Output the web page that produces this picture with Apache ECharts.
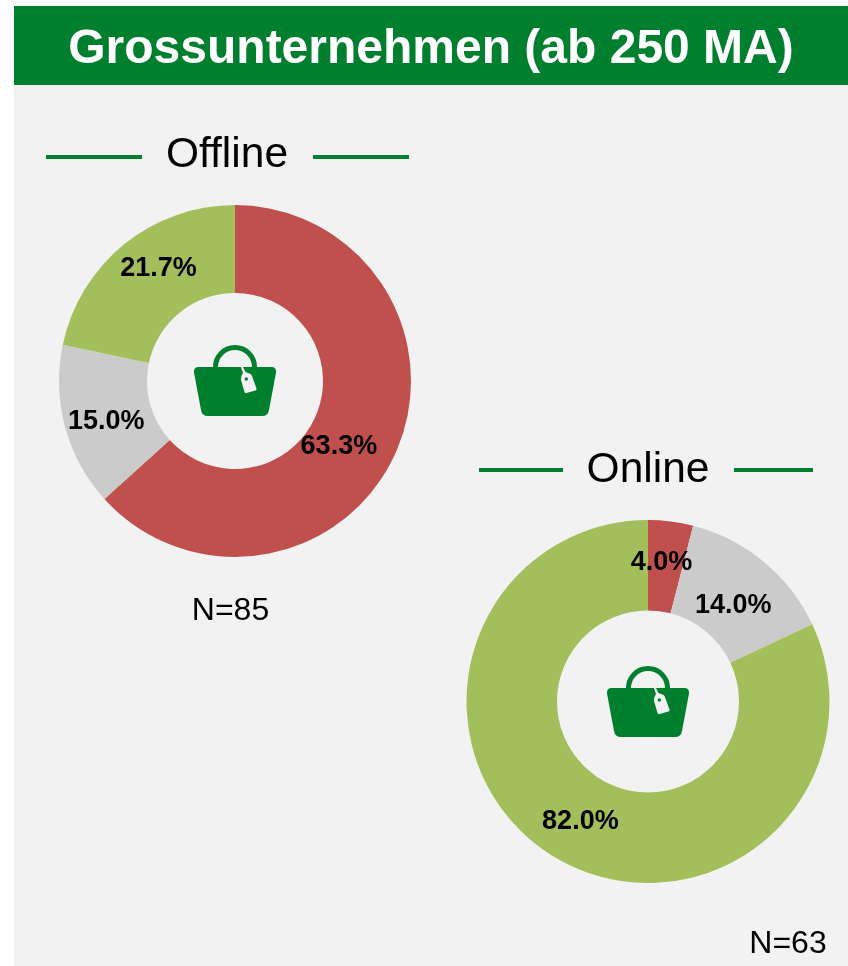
<!DOCTYPE html>
<html><head><meta charset="utf-8">
<style>html,body{margin:0;padding:0;background:#fff}#c{width:848px;height:966px}</style>
<script src="https://cdn.jsdelivr.net/npm/echarts@6/dist/echarts.min.js"></script>
</head><body><div id="c"></div>
<script>
const categories = ['Ja', 'Teilweise', 'Nein'];
const offlineValues = [63.3, 15.0, 21.7];
const onlineValues = [4.0, 14.0, 82.0];
const chartTitle = 'Grossunternehmen (ab 250 MA)';
const offlineTitle = 'Offline';
const onlineTitle = 'Online';
const offlineN = 'N=85';
const onlineN = 'N=63';

const colors = ['#C0504D', '#CBCBCB', '#A2BF5C'];
const green = '#007F2F';
const font = '"Liberation Sans", Arial, sans-serif';
const offlineOffsets = [[-19.5, 11], [1.5, 5], [8.5, -8]];
const onlineOffsets = [[-4, -1], [-3.5, 11], [7, 2]];

echarts.graphic.registerShape('bagBody', echarts.graphic.extendPath(
  'M-36.5,-14 L36.5,-14 Q41.5,-14 41,-8.5 L34,29 Q33,35 27,35 L-27,35 Q-33,35 -34,29 L-41,-8.5 Q-41.5,-14 -36.5,-14 Z'));
echarts.graphic.registerShape('bagTag', echarts.graphic.extendPath(
  'M5.5,-15 L7.5,-15 L10.5,-9 L15.5,-7 Q16.5,-6.5 17,-5 L21.5,7.5 Q22,9 20.5,9.5 L11.5,12 Q10,12.5 9.5,11 L6,-1 Q5.5,-5 8,-8 Z'));

function pie(values, offsets, center, radius) {
  return {
    type: 'pie', center, radius, startAngle: 90, clockwise: true, animation: false, silent: true,
    itemStyle: { borderWidth: 0 }, labelLine: { show: false },
    label: { show: true, position: 'inside', fontFamily: font, fontWeight: 'bold', fontSize: 27, color: '#000',
      formatter: p => p.value.toFixed(1) + '%' },
    data: values.map((v, i) => ({ name: categories[i], value: v, itemStyle: { color: colors[i] },
      label: { offset: offsets[i] } }))
  };
}
function bag(cx, cy) {
  return { type: 'group', x: cx, y: cy, silent: true, z: 10, children: [
    { type: 'arc', z: 10, shape: { cx: 0, cy: -14, r: 19.5, startAngle: Math.PI, endAngle: 0, clockwise: true },
      style: { stroke: green, lineWidth: 5, fill: null } },
    { type: 'bagBody', z: 10, style: { fill: green } },
    { type: 'bagTag', z: 11, style: { fill: '#F2F2F2' } },
    { type: 'circle', z: 12, shape: { cx: 11.3, cy: -2, r: 1.7 }, style: { fill: green } }
  ] };
}
function line(x1, x2, y) {
  return { type: 'line', silent: true, shape: { x1, y1: y, x2, y2: y }, style: { stroke: green, lineWidth: 4 }, z: 1 };
}
function text(str, x, y, size, weight, color) {
  return { type: 'text', silent: true, x, y, z: 5, style: { text: str, fontFamily: font, fontSize: size, fontWeight: weight,
    fill: color, align: 'center', verticalAlign: 'middle' } };
}
const chart = echarts.init(document.getElementById('c'), null, { renderer: 'canvas' });
chart.setOption({
  backgroundColor: '#fff', animation: false,
  series: [pie(offlineValues, offlineOffsets, [235, 381], [88, 176]),
           pie(onlineValues, onlineOffsets, [648, 701.5], [91, 181.5])],
  graphic: [
    { type: 'rect', silent: true, z: -10, shape: { x: 14, y: 85, width: 834, height: 881 }, style: { fill: '#F2F2F2' } },
    { type: 'rect', silent: true, z: -9, shape: { x: 14, y: 6, width: 834, height: 79 }, style: { fill: green } },
    text(chartTitle, 431, 50, 48, 'bold', '#fff'),
    line(46, 142, 157), line(313, 409, 157),
    text(offlineTitle, 227, 155, 42.5, 'normal', '#000'),
    line(479, 563, 470), line(734, 813, 470),
    text(onlineTitle, 648, 470, 42.5, 'normal', '#000'),
    text(offlineN, 230.5, 611, 32, 'normal', '#000'),
    text(onlineN, 788, 944, 32, 'normal', '#000'),
    bag(235, 381), bag(648, 702)
  ]
});
</script></body></html>
